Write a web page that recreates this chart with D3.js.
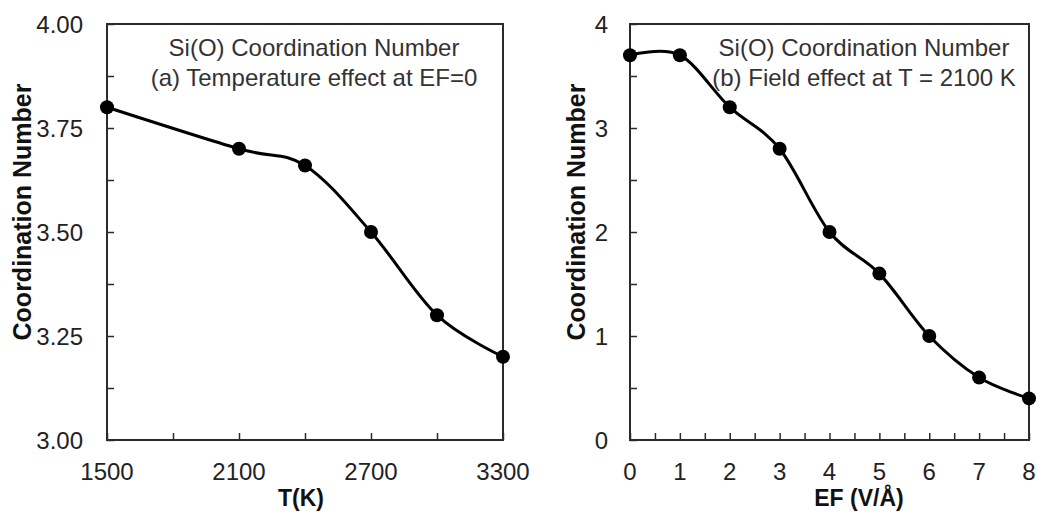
<!DOCTYPE html>
<html>
<head>
<meta charset="utf-8">
<script src="https://cdn.jsdelivr.net/npm/d3@7"></script>
<style>
    body { margin: 0; background: #fff; }
    svg { display: block; font-family: "Liberation Sans", Arial, sans-serif; }
</style>
</head>
<body>
<div id="chart"></div>
<script>
// panel (a): temperature effect
const tempValues = [1500, 2100, 2400, 2700, 3000, 3300];
const tempCoord = [3.80, 3.70, 3.66, 3.50, 3.30, 3.20];
const tempXTicks = [1500, 1800, 2100, 2400, 2700, 3000, 3300];
const tempXLabels = [1500, 2100, 2700, 3300];
const tempYTicks = [3.00, 3.125, 3.25, 3.375, 3.50, 3.625, 3.75, 3.875, 4.00];
const tempYLabels = [3.00, 3.25, 3.50, 3.75, 4.00];

// panel (b): field effect
const fieldValues = [0, 1, 2, 3, 4, 5, 6, 7, 8];
const fieldCoord = [3.7, 3.7, 3.2, 2.8, 2.0, 1.6, 1.0, 0.6, 0.4];
const fieldXTicks = [0, 0.5, 1, 1.5, 2, 2.5, 3, 3.5, 4, 4.5, 5, 5.5, 6, 6.5, 7, 7.5, 8];
const fieldXLabels = [0, 1, 2, 3, 4, 5, 6, 7, 8];
const fieldYTicks = [0, 0.5, 1, 1.5, 2, 2.5, 3, 3.5, 4];
const fieldYLabels = [0, 1, 2, 3, 4];

const width = 1037;
const height = 512;
const axisColor = "#2b2b2b";

const svg = d3.select("#chart")
    .append("svg")
    .attr("width", width)
    .attr("height", height);

svg.append("rect")
    .attr("width", width)
    .attr("height", height)
    .style("fill", "#fff");

drawPanel({
    left: 107, right: 503, top: 24, bottom: 440,
    xDomain: [1500, 3300], yDomain: [3, 4],
    xs: tempValues, ys: tempCoord,
    xTicks: tempXTicks, xLabels: tempXLabels,
    yTicks: tempYTicks, yLabels: tempYLabels,
    yFormat: d3.format(".2f"), yLabelGap: 24,
    xTitle: "T(K)", yTitleX: 31, xTitleX: 301,
    titles: ["Si(O) Coordination Number", "(a) Temperature effect at EF=0"],
    titleX: 314
});

drawPanel({
    left: 630, right: 1029, top: 24, bottom: 440,
    xDomain: [0, 8], yDomain: [0, 4],
    xs: fieldValues, ys: fieldCoord,
    xTicks: fieldXTicks, xLabels: fieldXLabels,
    yTicks: fieldYTicks, yLabels: fieldYLabels,
    yFormat: d3.format("d"), yLabelGap: 22,
    xTitle: "EF (V/Å)", yTitleX: 585, xTitleX: 859,
    titles: ["Si(O) Coordination Number", "(b) Field effect at T = 2100 K"],
    titleX: 864
});

function drawPanel(p) {
    const x = d3.scaleLinear().domain(p.xDomain).range([p.left, p.right]);
    const y = d3.scaleLinear().domain(p.yDomain).range([p.bottom, p.top]);

    const g = svg.append("g");

    // inward ticks, labels drawn separately
    const xAxis = d3.axisTop(x).tickValues(p.xTicks).tickSize(7).tickFormat("");
    g.append("g")
        .attr("transform", "translate(0," + p.bottom + ")")
        .call(xAxis)
        .call(a => a.select(".domain").remove())
        .selectAll("line").style("stroke", axisColor).style("stroke-width", 1.5);

    const yAxis = d3.axisRight(y).tickValues(p.yTicks).tickSize(7).tickFormat("");
    g.append("g")
        .attr("transform", "translate(" + p.left + ",0)")
        .call(yAxis)
        .call(a => a.select(".domain").remove())
        .selectAll("line").style("stroke", axisColor).style("stroke-width", 1.5);

    g.append("rect")
        .attr("x", p.left)
        .attr("y", p.top)
        .attr("width", p.right - p.left)
        .attr("height", p.bottom - p.top)
        .style("fill", "none")
        .style("stroke", axisColor)
        .style("stroke-width", 2);

    g.selectAll("text.xlab")
        .data(p.xLabels)
        .enter()
        .append("text")
        .attr("class", "xlab")
        .attr("x", d => x(d))
        .attr("y", p.bottom + 40)
        .attr("text-anchor", "middle")
        .style("font-size", "24px")
        .style("fill", "#222")
        .text(d => d);

    g.selectAll("text.ylab")
        .data(p.yLabels)
        .enter()
        .append("text")
        .attr("class", "ylab")
        .attr("x", p.left - p.yLabelGap)
        .attr("y", d => y(d) + 8.5)
        .attr("text-anchor", "end")
        .style("font-size", "24px")
        .style("fill", "#222")
        .text(d => p.yFormat(d));

    g.append("text")
        .attr("x", p.xTitleX)
        .attr("y", p.bottom + 66)
        .attr("text-anchor", "middle")
        .style("font-size", "23px")
        .style("font-weight", "bold")
        .style("fill", "#111")
        .text(p.xTitle);

    g.append("text")
        .attr("transform", "translate(" + p.yTitleX + ",212) rotate(-90)")
        .attr("text-anchor", "middle")
        .style("font-size", "25px")
        .style("font-weight", "bold")
        .style("fill", "#111")
        .text("Coordination Number");

    g.selectAll("text.title")
        .data(p.titles)
        .enter()
        .append("text")
        .attr("class", "title")
        .attr("x", p.titleX)
        .attr("y", (d, i) => 56 + i * 30)
        .attr("text-anchor", "middle")
        .style("font-size", "24px")
        .style("fill", "#333")
        .text(d => d);

    const points = p.xs.map((d, i) => [d, p.ys[i]]);

    const line = d3.line()
        .x(d => x(d[0]))
        .y(d => y(d[1]))
        .curve(d3.curveCardinal.tension(0));

    g.append("path")
        .datum(points)
        .attr("d", line)
        .style("fill", "none")
        .style("stroke", "#000")
        .style("stroke-width", 3);

    g.selectAll("circle.pt")
        .data(points)
        .enter()
        .append("circle")
        .attr("class", "pt")
        .attr("cx", d => x(d[0]))
        .attr("cy", d => y(d[1]))
        .attr("r", 7)
        .style("fill", "#000");
}
</script>
</body>
</html>
